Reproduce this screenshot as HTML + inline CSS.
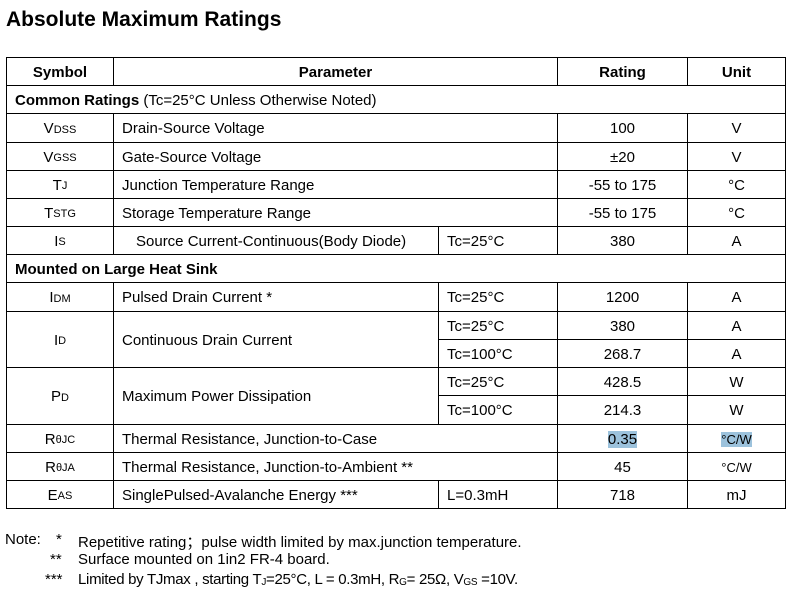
<!DOCTYPE html>
<html><head><meta charset="utf-8"><style>
body{margin:0;width:797px;height:601px;background:#fff;font-family:"Liberation Sans",sans-serif;color:#000;position:relative;overflow:hidden}
.c{position:absolute;box-sizing:border-box;border:1px solid #000;display:flex;align-items:center;justify-content:center;font-size:15px;white-space:nowrap;padding-top:1px}
.l{justify-content:flex-start;padding-left:8px}
.b{font-weight:bold}
sub{vertical-align:baseline;font-size:11px;position:relative;top:1px}
.n sub{font-size:10px}
.hl{background:#9cc2dc}
.t{position:absolute;font-size:15px;white-space:nowrap}
</style></head><body>
<div class="t b" style="left:6px;top:8px;font-size:21px">Absolute Maximum Ratings</div>

<div>
<div class="c b" style="left:6px;top:57px;width:108px;height:29px">Symbol</div>
<div class="c b" style="left:113px;top:57px;width:445px;height:29px">Parameter</div>
<div class="c b" style="left:557px;top:57px;width:131px;height:29px">Rating</div>
<div class="c b" style="left:687px;top:57px;width:99px;height:29px">Unit</div>

<div class="c l" style="left:6px;top:85px;width:780px;height:29px"><b>Common Ratings</b>&nbsp;(Tc=25°C Unless Otherwise Noted)</div>

<div class="c" style="left:6px;top:113px;width:108px;height:30px">V<sub>DSS</sub></div>
<div class="c l" style="left:113px;top:113px;width:445px;height:30px">Drain-Source Voltage</div>
<div class="c" style="left:557px;top:113px;width:131px;height:30px">100</div>
<div class="c" style="left:687px;top:113px;width:99px;height:30px">V</div>

<div class="c" style="left:6px;top:142px;width:108px;height:29px">V<sub>GSS</sub></div>
<div class="c l" style="left:113px;top:142px;width:445px;height:29px">Gate-Source Voltage</div>
<div class="c" style="left:557px;top:142px;width:131px;height:29px">±20</div>
<div class="c" style="left:687px;top:142px;width:99px;height:29px">V</div>

<div class="c" style="left:6px;top:170px;width:108px;height:29px">T<sub>J</sub></div>
<div class="c l" style="left:113px;top:170px;width:445px;height:29px">Junction Temperature Range</div>
<div class="c" style="left:557px;top:170px;width:131px;height:29px">-55 to 175</div>
<div class="c" style="left:687px;top:170px;width:99px;height:29px">°C</div>

<div class="c" style="left:6px;top:198px;width:108px;height:29px">T<sub>STG</sub></div>
<div class="c l" style="left:113px;top:198px;width:445px;height:29px">Storage Temperature Range</div>
<div class="c" style="left:557px;top:198px;width:131px;height:29px">-55 to 175</div>
<div class="c" style="left:687px;top:198px;width:99px;height:29px">°C</div>

<div class="c" style="left:6px;top:226px;width:108px;height:29px">I<sub>S</sub></div>
<div class="c l" style="left:113px;top:226px;width:326px;height:29px;padding-left:22px">Source Current-Continuous(Body Diode)</div>
<div class="c l" style="left:438px;top:226px;width:120px;height:29px">Tc=25°C</div>
<div class="c" style="left:557px;top:226px;width:131px;height:29px">380</div>
<div class="c" style="left:687px;top:226px;width:99px;height:29px">A</div>

<div class="c l b" style="left:6px;top:254px;width:780px;height:29px">Mounted on Large Heat Sink</div>

<div class="c" style="left:6px;top:282px;width:108px;height:30px">I<sub>DM</sub></div>
<div class="c l" style="left:113px;top:282px;width:326px;height:30px">Pulsed Drain Current *</div>
<div class="c l" style="left:438px;top:282px;width:120px;height:30px">Tc=25°C</div>
<div class="c" style="left:557px;top:282px;width:131px;height:30px">1200</div>
<div class="c" style="left:687px;top:282px;width:99px;height:30px">A</div>

<div class="c" style="left:6px;top:311px;width:108px;height:57px">I<sub>D</sub></div>
<div class="c l" style="left:113px;top:311px;width:326px;height:57px">Continuous Drain Current</div>
<div class="c l" style="left:438px;top:311px;width:120px;height:29px">Tc=25°C</div>
<div class="c" style="left:557px;top:311px;width:131px;height:29px">380</div>
<div class="c" style="left:687px;top:311px;width:99px;height:29px">A</div>
<div class="c l" style="left:438px;top:339px;width:120px;height:29px">Tc=100°C</div>
<div class="c" style="left:557px;top:339px;width:131px;height:29px">268.7</div>
<div class="c" style="left:687px;top:339px;width:99px;height:29px">A</div>

<div class="c" style="left:6px;top:367px;width:108px;height:58px">P<sub>D</sub></div>
<div class="c l" style="left:113px;top:367px;width:326px;height:58px">Maximum Power Dissipation</div>
<div class="c l" style="left:438px;top:367px;width:120px;height:29px">Tc=25°C</div>
<div class="c" style="left:557px;top:367px;width:131px;height:29px">428.5</div>
<div class="c" style="left:687px;top:367px;width:99px;height:29px">W</div>
<div class="c l" style="left:438px;top:395px;width:120px;height:30px">Tc=100°C</div>
<div class="c" style="left:557px;top:395px;width:131px;height:30px">214.3</div>
<div class="c" style="left:687px;top:395px;width:99px;height:30px">W</div>

<div class="c" style="left:6px;top:424px;width:108px;height:29px">R<sub>θJC</sub></div>
<div class="c l" style="left:113px;top:424px;width:445px;height:29px">Thermal Resistance, Junction-to-Case</div>
<div class="c" style="left:557px;top:424px;width:131px;height:29px"><span class="hl">0.35</span></div>
<div class="c" style="left:687px;top:424px;width:99px;height:29px;font-size:13px"><span class="hl">°C/W</span></div>

<div class="c" style="left:6px;top:452px;width:108px;height:29px">R<sub>θJA</sub></div>
<div class="c l" style="left:113px;top:452px;width:445px;height:29px">Thermal Resistance, Junction-to-Ambient **</div>
<div class="c" style="left:557px;top:452px;width:131px;height:29px">45</div>
<div class="c" style="left:687px;top:452px;width:99px;height:29px;font-size:13px">°C/W</div>

<div class="c" style="left:6px;top:480px;width:108px;height:29px">E<sub>AS</sub></div>
<div class="c l" style="left:113px;top:480px;width:326px;height:29px">SinglePulsed-Avalanche Energy ***</div>
<div class="c l" style="left:438px;top:480px;width:120px;height:29px">L=0.3mH</div>
<div class="c" style="left:557px;top:480px;width:131px;height:29px">718</div>
<div class="c" style="left:687px;top:480px;width:99px;height:29px">mJ</div>
</div>

<div class="n">
<div class="t" style="left:5px;top:531px">Note:</div>
<div class="t" style="left:56px;top:531px">*</div>
<div class="t" style="left:78px;top:531px">Repetitive rating；pulse width limited by max.junction temperature.</div>
<div class="t" style="left:50px;top:551px">**</div>
<div class="t" style="left:78px;top:551px">Surface mounted on 1in2 FR-4 board.</div>
<div class="t" style="left:45px;top:571px">***</div>
<div class="t" style="left:78px;top:571px;letter-spacing:-0.3px">Limited by TJmax , starting T<sub>J</sub>=25°C, L = 0.3mH, R<sub>G</sub>= 25Ω, V<sub>GS</sub> =10V.</div>
</div>
</body></html>
